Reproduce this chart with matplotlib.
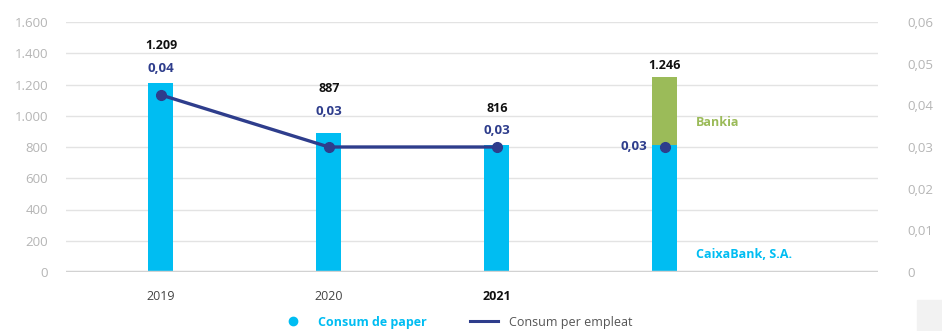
import numpy as np
import matplotlib.pyplot as plt
from matplotlib.lines import Line2D
from matplotlib.patches import Rectangle

plt.rcParams['font.family'] = ['Open Sans', 'DejaVu Sans']

# dades
categories = ['2019', '2020', '2021', '']
caixabank = [1209, 887, 816, 816]
bankia = [0, 0, 0, 430]
total_labels = ['1.209', '887', '816', '1.246']
per_empleat = [0.0425, 0.030, 0.030, 0.030]
per_empleat_labels = ['0,04', '0,03', '0,03', '0,03']
left_ticks = [0, 200, 400, 600, 800, 1000, 1200, 1400, 1600]
left_ticklabels = ['0', '200', '400', '600', '800', '1.000', '1.200', '1.400', '1.600']
right_ticks = [0, 0.01, 0.02, 0.03, 0.04, 0.05, 0.06]
right_ticklabels = ['0', '0,01', '0,02', '0,03', '0,04', '0,05', '0,06']

cyan = '#00BDF2'
green = '#9BBB59'
navy = '#2E3D8C'
grid_c = '#E3E3E3'
tick_c = '#B5B5B5'

fig = plt.figure(figsize=(9.42, 3.31), dpi=100)
ax = fig.add_axes([66/942, 59/331, 812/942, 250/331])
ax2 = ax.twinx()

x = np.arange(len(categories))
w = 0.15
ax.bar(x, caixabank, w, color=cyan, zorder=2)
ax.bar(x, bankia, w, bottom=caixabank, color=green, zorder=2)

ax.set_ylim(0, 1600)
ax.set_xlim(-0.565, 4.27)
ax.set_yticks(left_ticks)
ax.set_yticklabels(left_ticklabels)
ax.grid(axis='y', color=grid_c, lw=1, zorder=0)
ax.axhline(0, color='#D2D2D2', lw=2.5, zorder=3)
for s in ax.spines.values():
    s.set_visible(False)
for s in ax2.spines.values():
    s.set_visible(False)
ax.tick_params(axis='y', length=0, pad=13, labelsize=9.5, labelcolor=tick_c)
ax.set_xticks(x)
ax.set_xticklabels(categories)
ax.tick_params(axis='x', length=0, pad=13, labelsize=9, labelcolor='#444444')
ax.get_xticklabels()[2].set_fontweight('bold')
ax.get_xticklabels()[2].set_color('#111111')

ax2.set_ylim(0, 0.06)
ax2.set_yticks(right_ticks)
ax2.set_yticklabels(right_ticklabels)
ax2.tick_params(axis='y', length=0, pad=21, labelsize=9.5, labelcolor=tick_c)
for lab in ax2.get_yticklabels():
    lab.set_horizontalalignment('left')

ax2.plot(x[:3], per_empleat[:3], color=navy, lw=2.4, marker='o', ms=7, zorder=4)
ax2.plot(x[3], per_empleat[3], color=navy, marker='o', ms=7, zorder=4)

# etiquetes
tops = np.array(caixabank) + np.array(bankia)
num_off = [38, 45, 36, 12]
rat_off = [15, 22, 14, None]
for i in range(len(x)):
    ax.annotate(total_labels[i], (x[i], tops[i]), xytext=(0, num_off[i] * 0.72),
                textcoords='offset points', ha='center', va='center',
                fontsize=9, fontweight='bold', color='#111111')
    if rat_off[i] is not None:
        ax.annotate(per_empleat_labels[i], (x[i], tops[i]), xytext=(0, rat_off[i] * 0.72),
                    textcoords='offset points', ha='center', va='center',
                    fontsize=9.5, fontweight='bold', color=navy)
ax2.annotate(per_empleat_labels[3], (x[3], per_empleat[3]), xytext=(-31 * 0.72, 0),
             textcoords='offset points', ha='center', va='center',
             fontsize=9.5, fontweight='bold', color=navy)
ax.annotate('Bankia', (x[3] + w / 2, caixabank[3] + bankia[3] / 2), xytext=(19 * 0.72, -12 * 0.72),
            textcoords='offset points', ha='left', va='center',
            fontsize=9, fontweight='bold', color=green)
ax.annotate('CaixaBank, S.A.', (x[3] + w / 2, 0), xytext=(19 * 0.72, 18 * 0.72),
            textcoords='offset points', ha='left', va='center',
            fontsize=9, fontweight='bold', color=cyan)

# llegenda
handles = [Line2D([], [], ls='none', marker='o', ms=6, color=cyan),
           Line2D([], [], color=navy, lw=2.2)]
leg = fig.legend(handles, ['Consum de paper', 'Consum per empleat'], ncol=2,
                 loc='center', bbox_to_anchor=(0.484, 0.027), frameon=False,
                 fontsize=9, handlelength=2.2, columnspacing=3.5, handletextpad=0.9)
txt = leg.get_texts()
txt[0].set_color(cyan)
txt[0].set_fontweight('bold')
txt[1].set_color('#555555')

fig.patches.append(Rectangle((917/942, 0), 25/942, 31/331, transform=fig.transFigure,
                             color='#F2F2F2', zorder=0))

fig.savefig('out.png', dpi=100)
